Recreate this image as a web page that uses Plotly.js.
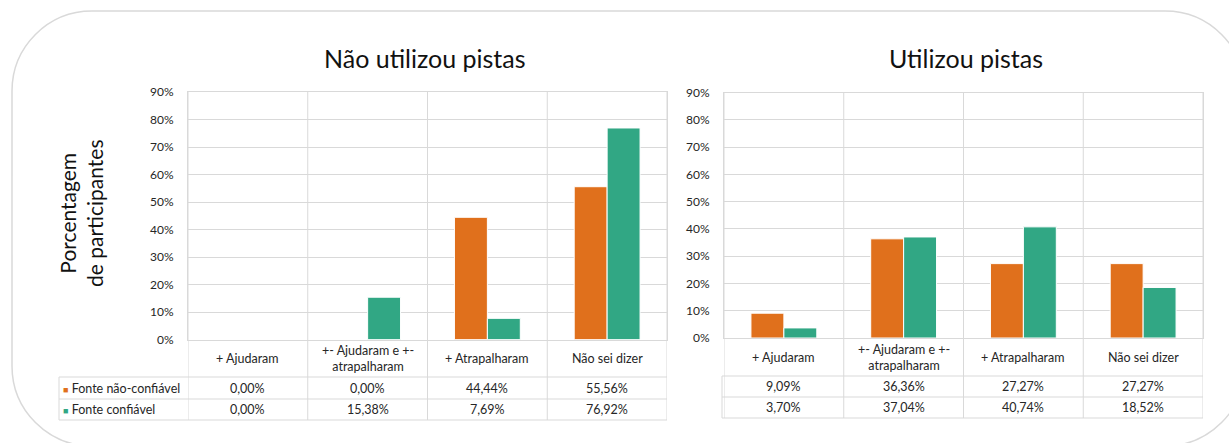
<!DOCTYPE html>
<html>
<head>
<meta charset="utf-8">
<script src="https://cdn.plot.ly/plotly-3.0.1.min.js"></script>
<style>
html,body{margin:0;padding:0;background:#fff;}
#chart{width:1229px;height:443px;}
</style>
</head>
<body>
<div id="chart"></div>
<script>
// ---- data ----
const categories = ['+ Ajudaram', '+- Ajudaram e +-<br>atrapalharam', '+ Atrapalharam', 'Não sei dizer'];
const seriesNames = ['Fonte não-confiável', 'Fonte confiável'];
const panelTitles = ['Não utilizou pistas', 'Utilizou pistas'];
const semPistasNaoConfiavel = [0.00, 0.00, 44.44, 55.56];
const semPistasConfiavel = [0.00, 15.38, 7.69, 76.92];
const comPistasNaoConfiavel = [9.09, 36.36, 27.27, 27.27];
const comPistasConfiavel = [3.70, 37.04, 40.74, 18.52];
const yAxisTitle = 'Porcentagem<br>de participantes';
const yTickValues = [0, 10, 20, 30, 40, 50, 60, 70, 80, 90];
const yTickLabels = ['0%', '10%', '20%', '30%', '40%', '50%', '60%', '70%', '80%', '90%'];

// ---- styling ----
const W = 1229, H = 443;
const colors = ['#E0701C', '#31A784'];
const gridColor = '#D9D9D9';
const textColor = '#262626';
const FONT = 'Lato, "Open Sans", sans-serif';
const px = x => x / W;
const py = y => 1 - y / H;

const panels = [
  {xa: 'x', ya: 'y', xd: [188, 667], yTop: 92, yBot: 339.5, rows: [377, 399, 420], tableLeft: 59,
   data: [semPistasNaoConfiavel, semPistasConfiavel], legend: true, titleShift: -2.5},
  {xa: 'x2', ya: 'y2', xd: [724, 1203], yTop: 92.5, yBot: 338, rows: [376, 397, 418], tableLeft: 722,
   data: [comPistasNaoConfiavel, comPistasConfiavel], legend: false, titleShift: 2.5}
];

const traces = [];
const shapes = [];
const annotations = [];
const fmt = v => v.toFixed(2).replace('.', ',') + '%';

// rounded outer frame
(function () {
  const x0 = 12, y0 = 11, x1 = 1245, y1 = 446, r = 80, k = 0.5523 * r;
  const P = (x, y) => px(x) + ',' + py(y);
  const path = 'M' + P(x0 + r, y0) + ' L' + P(x1 - r, y0) +
    ' C' + P(x1 - r + k, y0) + ' ' + P(x1, y0 + r - k) + ' ' + P(x1, y0 + r) +
    ' L' + P(x1, y1 - r) +
    ' C' + P(x1, y1 - r + k) + ' ' + P(x1 - r + k, y1) + ' ' + P(x1 - r, y1) +
    ' L' + P(x0 + r, y1) +
    ' C' + P(x0 + r - k, y1) + ' ' + P(x0, y1 - r + k) + ' ' + P(x0, y1 - r) +
    ' L' + P(x0, y0 + r) +
    ' C' + P(x0, y0 + r - k) + ' ' + P(x0 + r - k, y0) + ' ' + P(x0 + r, y0) + ' Z';
  shapes.push({type: 'path', xref: 'paper', yref: 'paper', path: path,
    line: {color: '#D9D9D9', width: 1.5}, layer: 'below'});
})();

panels.forEach((p, pi) => {
  p.data.forEach((vals, si) => {
    traces.push({
      type: 'bar', x: categories, y: vals, name: seriesNames[si],
      xaxis: p.xa, yaxis: p.ya, showlegend: false,
      marker: {color: colors[si], line: {color: '#FFFFFF', width: 1}},
      hoverinfo: 'skip'
    });
  });
  // vertical category boundaries through the table
  for (let i = 0; i <= categories.length; i++) {
    shapes.push({type: 'line', xref: p.xa, yref: 'paper', x0: i - 0.5, x1: i - 0.5,
      y0: py(p.yTop), y1: py(p.rows[2]), line: {color: gridColor, width: 1}, layer: 'below'});
  }
  // table horizontal lines
  p.rows.forEach(ry => {
    shapes.push({type: 'line', xref: 'paper', yref: 'paper', x0: px(p.tableLeft), x1: px(p.xd[1]),
      y0: py(ry), y1: py(ry), line: {color: gridColor, width: 1}, layer: 'below'});
  });
  shapes.push({type: 'line', xref: 'paper', yref: 'paper', x0: px(p.tableLeft), x1: px(p.tableLeft),
    y0: py(p.rows[0]), y1: py(p.rows[2]), line: {color: gridColor, width: 1}, layer: 'below'});

  // category labels
  categories.forEach((c, i) => {
    annotations.push({xref: p.xa, yref: 'paper', x: i, y: py((p.yBot + p.rows[0]) / 2),
      text: c, showarrow: false, xanchor: 'center', yanchor: 'middle',
      font: {family: FONT, size: 12.5, color: textColor}});
  });
  // table values
  p.data.forEach((vals, si) => {
    const top = si === 0 ? p.rows[0] : p.rows[1];
    const bot = si === 0 ? p.rows[1] : p.rows[2];
    vals.forEach((v, i) => {
      annotations.push({xref: p.xa, yref: 'paper', x: i, y: py((top + bot) / 2),
        text: fmt(v), showarrow: false, xanchor: 'center', yanchor: 'middle',
        font: {family: FONT, size: 12.5, color: textColor}});
    });
    if (p.legend) {
      annotations.push({xref: 'paper', yref: 'paper', x: px(p.tableLeft + 2), y: py((top + bot) / 2),
        text: '<span style="color:' + colors[si] + ';font-size:9px">■</span> ' + seriesNames[si],
        showarrow: false, xanchor: 'left', yanchor: 'middle',
        font: {family: FONT, size: 12.5, color: textColor}});
    }
  });
  // panel title
  annotations.push({xref: 'paper', yref: 'paper', x: px((p.xd[0] + p.xd[1]) / 2 + p.titleShift), y: py(58),
    text: panelTitles[pi], showarrow: false, xanchor: 'center', yanchor: 'middle',
    font: {family: FONT, size: 25, color: '#111111'}});
});

// y axis title
annotations.push({xref: 'paper', yref: 'paper', x: px(81), y: py(213), text: yAxisTitle,
  textangle: -90, showarrow: false, xanchor: 'center', yanchor: 'middle',
  font: {family: FONT, size: 21, color: '#111111'}});

function yAxisDef(p) {
  return {
    domain: [py(p.yBot), py(p.yTop)], range: [0, 90], tickmode: 'array',
    tickvals: yTickValues, ticktext: yTickLabels,
    showgrid: true, gridcolor: gridColor, gridwidth: 1, zeroline: false,
    showline: true, linecolor: gridColor, mirror: true,
    ticks: '', ticklabelstandoff: 11, fixedrange: true,
    tickfont: {family: FONT, size: 12, color: textColor}
  };
}
function xAxisDef(p, anchor) {
  return {
    domain: [px(p.xd[0]), px(p.xd[1])], type: 'category', range: [-0.5, 3.5],
    showticklabels: false, showgrid: false, zeroline: false,
    showline: true, linecolor: gridColor, mirror: true, anchor: anchor, fixedrange: true
  };
}

const layout = {
  width: W, height: H,
  margin: {l: 0, r: 0, t: 0, b: 0},
  paper_bgcolor: '#FFFFFF', plot_bgcolor: 'rgba(0,0,0,0)',
  barmode: 'group', bargap: 0.45, bargroupgap: 0,
  showlegend: false,
  xaxis: xAxisDef(panels[0], 'y'),
  yaxis: Object.assign(yAxisDef(panels[0]), {anchor: 'x'}),
  xaxis2: xAxisDef(panels[1], 'y2'),
  yaxis2: Object.assign(yAxisDef(panels[1]), {anchor: 'x2'}),
  shapes: shapes,
  annotations: annotations
};

Plotly.newPlot('chart', traces, layout, {staticPlot: true, displayModeBar: false});
</script>
</body>
</html>
